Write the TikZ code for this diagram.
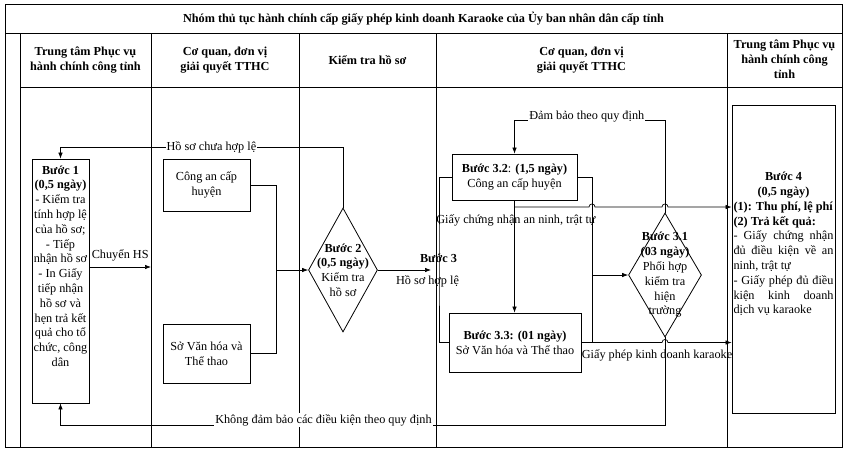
\documentclass[tikz,border=0pt]{standalone}
\usepackage{fontspec}
\setmainfont{Liberation Serif}
\usetikzlibrary{shapes.geometric,arrows.meta}
\begin{document}
\begin{tikzpicture}[x=1pt,y=-1pt,
  every node/.style={font=\fontsize{12.25}{14.8}\selectfont},
  lane/.style={line width=1pt},
  box/.style={draw, line width=0.8pt, inner sep=0pt, align=center},
  dia/.style={draw, diamond, line width=0.8pt, inner sep=0pt},
  txt/.style={align=center, inner sep=0pt},
  conn/.style={line width=0.7pt},
  arr/.style={conn, -{Latex[length=6pt,width=4.5pt]}},
  lbl/.style={inner sep=1pt, fill=white},
  hdr/.style={align=center, inner sep=0pt, font=\fontsize{12.25}{14.8}\selectfont\bfseries}
]
\useasboundingbox (0,0) rectangle (848,453);
% frame and lanes
\draw[lane] (5,4) rectangle (842,447);
\draw[lane] (5,33) -- (842,33);
\draw[lane] (20,87) -- (842,87);
\foreach \x in {20,151,299,436,727} \draw[lane] (\x,33) -- (\x,447);
% title and headers
\node[hdr] (title) at (423.5,18.5) {Nhóm thủ tục hành chính cấp giấy phép kinh doanh Karaoke của Ủy ban nhân dân cấp tỉnh};
\node[hdr] (h1) at (85.5,60) {Trung tâm Phục vụ\\hành chính công tỉnh};
\node[hdr] (h2) at (225,60) {Cơ quan, đơn vị\\giải quyết TTHC};
\node[hdr] (h3) at (367.5,60) {Kiểm tra hồ sơ};
\node[hdr] (h4) at (581.5,60) {Cơ quan, đơn vị\\giải quyết TTHC};
\node[hdr] (h5) at (784.5,59) {Trung tâm Phục vụ\\hành chính công\\tỉnh};
% nodes
\node[box, minimum width=57pt, minimum height=244pt] (b1) at (60.5,281) {};
\node[txt] (b1t) at (60.5,266) {\textbf{Bước 1}\\\textbf{(0,5 ngày)}\\- Kiểm tra\\tính hợp lệ\\của hồ sơ;\\- Tiếp\\nhận hồ sơ\\- In Giấy\\tiếp nhận\\hồ sơ và\\hẹn trả kết\\quả cho tổ\\chức, công\\dân};
\node[box, minimum width=87pt, minimum height=52pt] (ca) at (206.5,185) {Công an cấp\\huyện};
\node[box, minimum width=87pt, minimum height=59pt] (svh) at (206.5,353.5) {Sở Văn hóa và\\Thể thao};
\node[dia, minimum width=69pt, minimum height=124pt] (d2) at (343,270) {};
\node[txt] (d2t) at (343,270) {\textbf{Bước 2}\\\textbf{(0,5 ngày)}\\Kiểm tra\\hồ sơ};
\node[box, minimum width=125pt, minimum height=46pt] (b32) at (514.5,177) {\textbf{Bước 3.2}: \textbf{(1,5 ngày)}\\Công an cấp huyện};
\node[box, minimum width=132pt, minimum height=59pt] (b33) at (515,342.5) {\textbf{Bước 3.3: (01 ngày)}\\Sở Văn hóa và Thể thao};
\node[dia, minimum width=73pt, minimum height=124pt] (d31) at (665,275) {};
\node[txt] (d31t) at (665,275) {\textbf{Bước 3.1}\\\textbf{(03 ngày)}\\Phối hợp\\kiểm tra\\hiện\\trường};
\node[box, minimum width=103pt, minimum height=308pt] (b4) at (783.5,259) {};
\node[align=left, inner sep=0pt] (b4t) at (783.5,244) {%
\makebox[100pt][c]{\textbf{Bước 4}}\\
\makebox[100pt][c]{\textbf{(0,5 ngày)}}\\
\textbf{(1): Thu phí, lệ phí}\\
\textbf{(2) Trả kết quả:}\\
\makebox[100pt][s]{- Giấy chứng nhận}\\
\makebox[100pt][s]{đủ điều kiện về an}\\
ninh, trật tự\\
\makebox[100pt][s]{- Giấy phép đủ điều}\\
\makebox[100pt][s]{kiện kinh doanh}\\
dịch vụ karaoke};
% coordinates
\coordinate (lane2) at (151,267);
\coordinate (j2) at (276,270);
\coordinate (c1) at (343,147);
\coordinate (a3) at (431,270);
\coordinate (brk) at (439,270);
\coordinate (c2) at (665,120);
\coordinate (g1) at (514.5,207);
\coordinate (j3) at (592,275);
\coordinate (c3) at (665,425);
% connectors
\draw[arr] (b1.east |- lane2) -- (lane2) node[midway, above=2pt] {Chuyển HS};
\draw[conn] (ca.east) -| (j2);
\draw[conn] (svh.east) -| (j2);
\draw[arr] (j2) -- (d2.west);
\draw[arr] (d2.north) -- (c1) -| (b1.north) node[pos=0.233, lbl] {Hồ sơ chưa hợp lệ};
\draw[arr] (d2.east) -- (a3);
\node[font=\fontsize{12.25}{14.8}\selectfont\bfseries] (l3) at (438.5,258) {Bước 3};
\node (l3b) at (427.5,281) {Hồ sơ hợp lệ};
\draw[conn] (b32.west) -| (brk) |- (b33.west);
\draw[arr] (d31.north) -- (c2) -| (b32.north) node[pos=0.26, lbl, yshift=3pt] {Đảm bảo theo quy định};
\draw[arr] (b32.south) -- (b32.south |- b33.north);
\draw[arr] (g1) -- (589,207) .. controls (589,203) and (595,203) .. (595,207) -- (662,207) .. controls (662,203) and (668,203) .. (668,207) -- (g1 -| b4.west);
\node (lg) at (516,220) {Giấy chứng nhận an ninh, trật tự};
\draw[arr] (b32.east) -| (j3) -- (d31.west);
\draw[conn] (b33.east -| j3) -- (j3);
\draw[arr] (b33.east) -- (662,342.5) .. controls (662,338.5) and (668,338.5) .. (668,342.5) -- (b33.east -| b4.west);
\node (lgp) at (657,355) {Giấy phép kinh doanh karaoke};
\draw[arr] (d31.south) -- (c3) -| (b1.south) node[pos=0.2825, lbl, yshift=5pt] {Không đảm bảo các điều kiện theo quy định};
\end{tikzpicture}
\end{document}
